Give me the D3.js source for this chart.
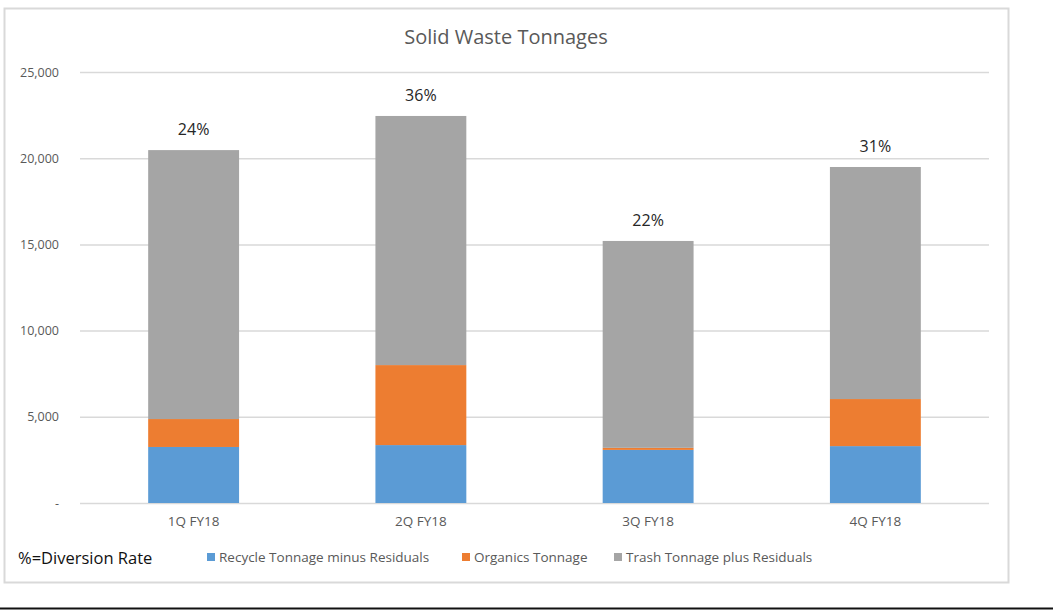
<!DOCTYPE html>
<html>
<head>
<meta charset="utf-8">
<script src="https://cdn.jsdelivr.net/npm/d3@7"></script>
<style>
  body { margin: 0; background: #fff; }
  svg { display: block; font-family: "Open Sans", sans-serif; }
</style>
</head>
<body>
<svg id="chart" width="1053" height="610"></svg>
<script>
// data
var quarters = ["1Q FY18", "2Q FY18", "3Q FY18", "4Q FY18"]
var recycle = [3250, 3360, 3080, 3300]
var organics = [1620, 4640, 120, 2730]
var trash = [15600, 14450, 12000, 13460]
var diversion = ["24%", "36%", "22%", "31%"]
var seriesNames = ["Recycle Tonnage minus Residuals", "Organics Tonnage", "Trash Tonnage plus Residuals"]
var yTicks = [0, 5000, 10000, 15000, 20000, 25000]

var svg = d3.select("#chart")
var width = +svg.attr("width")
var height = +svg.attr("height")
var margin = { top: 72, right: 64, bottom: 107, left: 80 }

// frame + bottom rule
svg.append("rect")
    .attr("x", 4.5).attr("y", 8.5)
    .attr("width", 1004).attr("height", 574)
    .attr("fill", "#fff")
    .attr("stroke", "#d9d9d9")
    .attr("stroke-width", 2)

svg.append("line")
    .attr("x1", 0).attr("x2", width)
    .attr("y1", 608.5).attr("y2", 608.5)
    .attr("stroke", "#111")
    .attr("stroke-width", 2)

svg.append("text")
    .attr("x", 506).attr("y", 44)
    .attr("text-anchor", "middle")
    .attr("font-size", 20)
    .attr("fill", "#595959")
    .text("Solid Waste Tonnages")

var rows = quarters.map((q, i) => ({ key: q, r: recycle[i], o: organics[i], t: trash[i], pct: diversion[i] }))
var keys = ["r", "o", "t"]
var color = d3.scaleOrdinal().domain(keys).range(["#5b9bd5", "#ed7d31", "#a5a5a5"])

var x = d3.scaleBand()
    .domain(quarters)
    .range([margin.left, width - margin.right])
    .paddingInner(0.6)
    .paddingOuter(0.3)

var y = d3.scaleLinear()
    .domain([0, 25000])
    .range([height - margin.bottom, margin.top])

// gridlines
svg.append("g")
    .attr("transform", `translate(${margin.left},0)`)
    .call(d3.axisLeft(y).tickValues(yTicks).tickSize(-(width - margin.left - margin.right)).tickFormat(""))
    .call(g => g.select(".domain").remove())
    .call(g => g.selectAll(".tick line").attr("stroke", "#d9d9d9").attr("stroke-width", 1.5))

// y labels
svg.append("g")
    .attr("transform", `translate(${margin.left - 18},0)`)
    .call(d3.axisLeft(y).tickValues(yTicks).tickSize(0).tickFormat(d => d === 0 ? "-" : d3.format(",")(d)))
    .call(g => g.select(".domain").remove())
    .call(g => g.selectAll("text")
        .attr("font-family", "Open Sans, sans-serif")
        .attr("font-size", 12.5)
        .attr("fill", "#595959"))

var stack = d3.stack().keys(keys)(rows)

svg.append("g")
    .selectAll("g")
    .data(stack)
    .enter()
    .append("g")
    .attr("fill", d => color(d.key))
    .selectAll("rect")
    .data(d => d)
    .enter()
    .append("rect")
    .attr("x", d => x(d.data.key))
    .attr("y", d => y(d[1]))
    .attr("width", x.bandwidth())
    .attr("height", d => y(d[0]) - y(d[1]))

// diversion labels
svg.append("g")
    .selectAll("text")
    .data(rows)
    .enter()
    .append("text")
    .attr("x", d => x(d.key) + x.bandwidth() / 2)
    .attr("y", d => y(d.r + d.o + d.t) - 15)
    .attr("text-anchor", "middle")
    .attr("font-size", 16)
    .attr("fill", "#262626")
    .text(d => d.pct)

// x labels
svg.append("g")
    .attr("transform", `translate(0,${height - margin.bottom})`)
    .call(d3.axisBottom(x).tickSize(0).tickPadding(13))
    .call(g => g.select(".domain").remove())
    .call(g => g.selectAll("text")
        .attr("font-family", "Open Sans, sans-serif")
        .attr("font-size", 13.5)
        .attr("fill", "#595959"))

// legend
svg.append("text")
    .attr("x", 18).attr("y", 564)
    .attr("font-size", 16.5)
    .attr("fill", "#111")
    .text("%=Diversion Rate")

var legendX = [207, 462, 614]
var lg = svg.append("g")
    .selectAll("g")
    .data(keys)
    .enter()
    .append("g")
    .attr("transform", (d, i) => `translate(${legendX[i]},553)`)

lg.append("rect")
    .attr("width", 8).attr("height", 8)
    .attr("fill", d => color(d))

lg.append("text")
    .attr("x", 12).attr("y", 4)
    .attr("dy", "0.35em")
    .attr("font-size", 13.5)
    .attr("fill", "#595959")
    .text((d, i) => seriesNames[i])
</script>
</body>
</html>
